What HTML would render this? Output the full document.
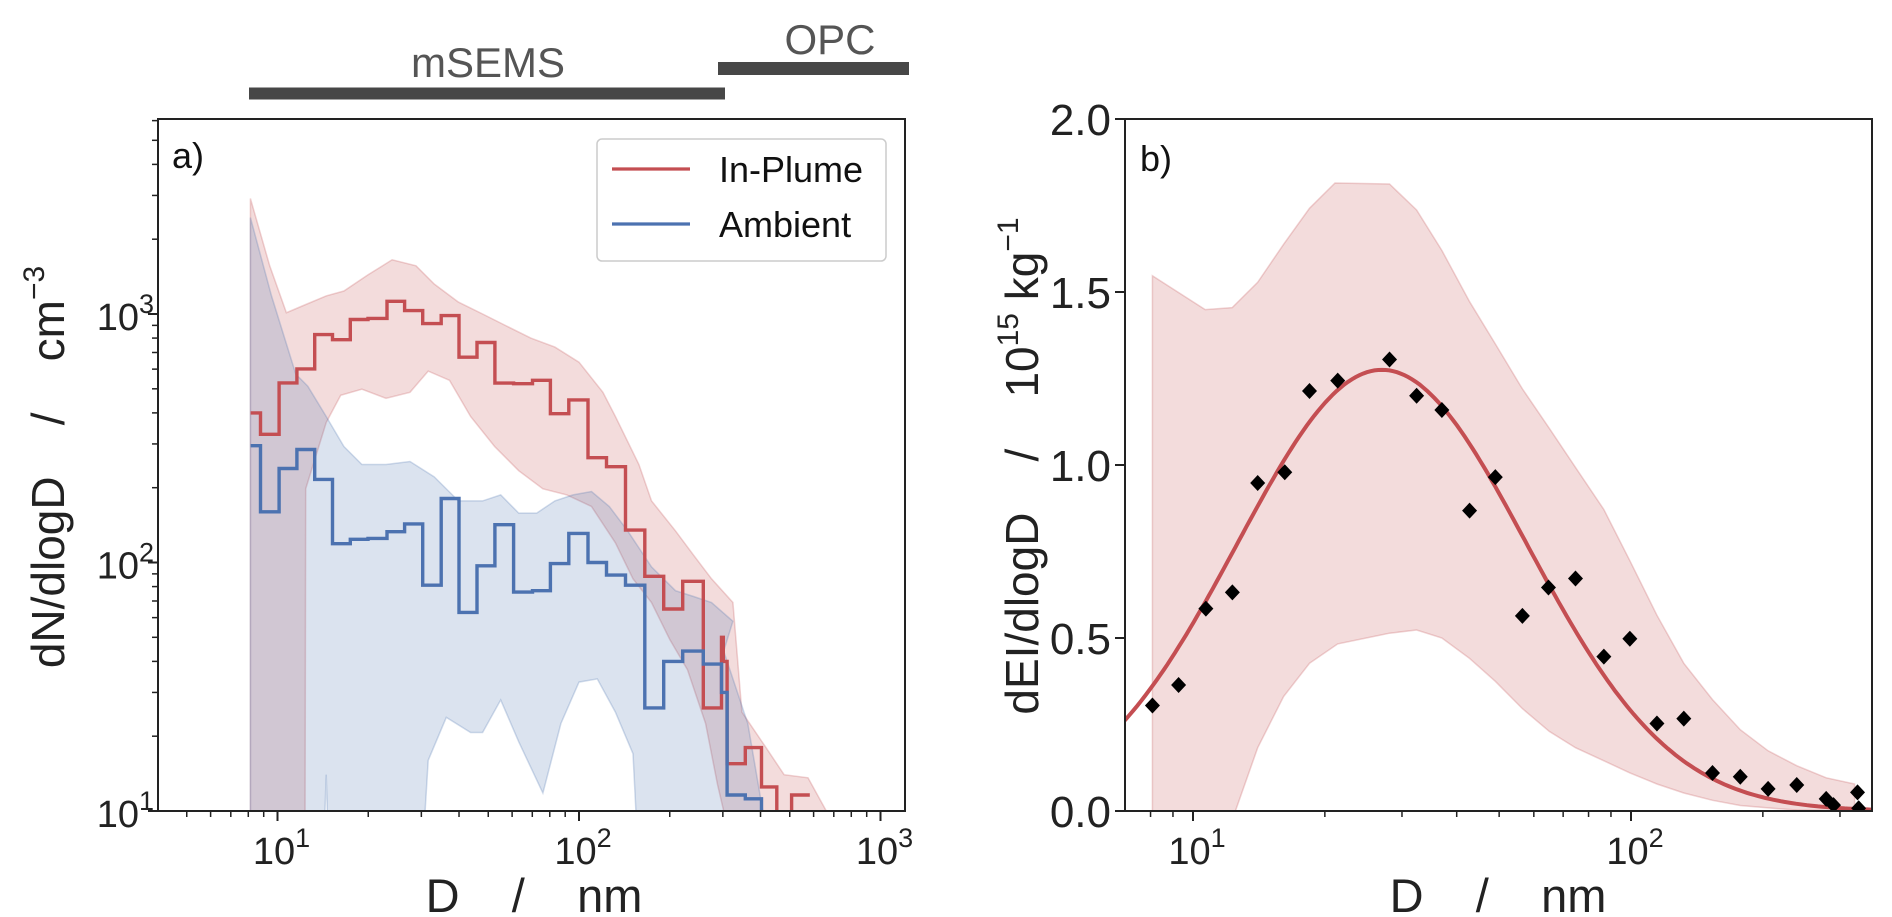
<!DOCTYPE html>
<html><head><meta charset="utf-8"><style>
html,body{margin:0;padding:0;background:#fff;overflow:hidden;width:1892px;height:917px;}
svg{display:block;font-family:"Liberation Sans","DejaVu Sans",sans-serif;}
</style></head><body>
<svg id="chart" width="1892" height="917" viewBox="0 0 1892 917" xmlns="http://www.w3.org/2000/svg">
<defs>
<clipPath id="clipA"><rect x="158" y="119" width="747" height="692"/></clipPath>
<clipPath id="clipB"><rect x="1125" y="119" width="747" height="692"/></clipPath>
</defs>
<g>
<rect x="249" y="87.5" width="476" height="12" fill="#474747"/>
<text x="488" y="77" font-size="42" fill="#555" text-anchor="middle">mSEMS</text>
<rect x="718" y="62" width="191" height="13" fill="#474747"/>
<text x="830" y="54" font-size="42" fill="#555" text-anchor="middle">OPC</text>
</g>
<g id="panelA"></g>
<g id="panelB"></g>
</svg>
<script>
// ---------- Panel a data ----------
const binEdges = [8.14,8.78,10.12,11.6,13.29,15.22,17.43,19.96,23.07,26.4,30.3,34.9,40.0,45.9,52.6,60.7,70.1,80.4,92.5,107.1,123.4,142.6,165.3,191.0,220.8,258.3,297,301,310,356,403,453,507,583];
const inPlume = [400,328,528,601,826,788,950,960,1125,1032,915,985,670,768,527,524,541,397,451,264,243,135,88,65,84,26,50,40,15.5,18,12.5,5,11.6];
const ambient = [295,160,239,285,216,119,124,125,133,143,81,181,63,97,142,76,77,99,131,100,89,81,26,40,44,39,30,30,11.6,11.2,5,5,5];
const redBandD = [8.13,9.42,10.7,12.3,14.5,16.6,19.95,24.0,28.8,33.1,39.8,47.9,57.5,69.2,83.2,100,120,132,158,174,209,240,275,324,347,417,479,575,661];
const redBandHi = [2917,1563,1012,1087,1183,1237,1437,1653,1563,1321,1117,1000,895,800,736,640,484,387,248,177,134,107,86,69,25,18,14,13.6,10];
const redLowD = [8.13,12.3,12.4,14.5,16.2,19.05,22.9,27.5,31.6,37.2,43.7,52.5,63.1,75.9,91.2,110,132,151,174,200,229,263,288,302,661];
const redLowV = [1,1,198,366,471,498,458,484,589,541,387,293,234,198,187,168,120,86,69,49,37,22.5,12.8,10,1];
const blueBandD = [8.13,9.55,11.5,12.6,14.5,16.6,19.05,22.9,27.5,33.1,39.8,47.9,55,63.1,72.4,83.2,95.5,110,126,145,174,209,240,275,324,302,363,407];
const blueBandHi = [2443,1183,573,512,387,293,248,248,255,221,177,177,187,158,158,177,187,193,168,134,96,77,73,69,58,44,22.5,10];
const blueLowD = [8.13,13.5,14.5,15.5,27.5,31.6,36.3,43.7,47.9,55,63.1,75.9,87.1,100,115,132,151,170,407];
const blueLowV = [1,1,14,1,1,16,23.8,20.7,20.7,28,19,11.8,22.5,33,34,25,17,1,1];
const aXTickVals = [10,100,1000];
const aXTickExp = ["1","2","3"];
const aYTickVals = [10,100,1000];
const aYTickExp = ["1","2","3"];

// ---------- Panel b data ----------
const eiD = [8.08,9.27,10.7,12.3,14.05,16.2,18.45,21.4,28.1,32.4,37.0,42.8,49.0,56.5,64.8,74.7,86.7,99.4,114.6,132,153.5,177.6,205.6,239,279,290,329,331];
const eiVal = [0.305,0.364,0.585,0.632,0.948,0.979,1.214,1.244,1.305,1.200,1.159,0.868,0.965,0.564,0.646,0.672,0.446,0.498,0.253,0.267,0.110,0.099,0.064,0.075,0.035,0.017,0.054,0.008];
const bandBD = [8.08,10.66,12.29,14.05,16.1,18.45,21.1,28.1,32.4,37.0,42.8,49.0,56.5,65.1,74.7,86.7,99.4,114.6,132,153.5,177.6,205.6,239,279,324];
const bandBHi = [1.547,1.449,1.455,1.528,1.638,1.742,1.815,1.812,1.737,1.620,1.472,1.350,1.220,1.106,0.993,0.871,0.723,0.566,0.427,0.322,0.235,0.174,0.131,0.096,0.078];
const bandBLowD = [8.08,12.5,14.05,16.1,18.45,21.4,28.1,32.4,37.0,42.8,49.0,56.5,65.1,74.7,86.7,99.4,114.6,132,153.5,177.6,205.6,239,324];
const bandBLow = [0,0,0.183,0.331,0.427,0.483,0.514,0.523,0.5,0.441,0.375,0.296,0.230,0.183,0.145,0.110,0.078,0.052,0.031,0.016,0.009,0.003,0];
const fitAmplitude = [1.275];
const fitMode = [27];
const fitSigma = [0.33];
const bXTickVals = [10,100];
const bXTickExp = ["1","2"];
const bYTickVals = [0,0.5,1.0,1.5,2.0];
const bYTickLabels = ["0.0","0.5","1.0","1.5","2.0"];

const NS = "http://www.w3.org/2000/svg";
const L = Math.log10;
const SP = "\u00a0\u00a0\u00a0\u00a0";
function xa(d){return 277.5 + 301.5*(L(d)-1);}
function ya(v){return 811 - 248.5*(L(v)-1);}
function xb(d){return 1193 + 438*(L(d)-1);}
function yb(v){return 811 - 346*v;}
function mk(tag, attrs, parent){
  const e = document.createElementNS(NS, tag);
  for (const k in attrs) e.setAttribute(k, attrs[k]);
  parent.appendChild(e); return e;
}
const RED = "#c44e52", BLUE = "#4c72b0";
const pA = document.getElementById("panelA");
const pB = document.getElementById("panelB");

const gA = mk("g", {"clip-path":"url(#clipA)"}, pA);
function bandPath(xs, hi, lowX, lo, fx, fy){
  let d = "";
  xs.forEach((x,i)=>{ d += (i?"L":"M") + fx(x).toFixed(1) + "," + fy(hi[i]).toFixed(1); });
  for (let i = lowX.length-1; i >= 0; i--) d += "L" + fx(lowX[i]).toFixed(1) + "," + fy(lo[i]).toFixed(1);
  return d + "Z";
}
const rb = mk("path", {d: bandPath(redBandD, redBandHi, redLowD, redLowV, xa, ya), fill: RED, "fill-opacity": 0.2, stroke: RED, "stroke-opacity": 0.25, "stroke-width": 1.5}, gA);


const bb = mk("path", {d: bandPath(blueBandD, blueBandHi, blueLowD, blueLowV, xa, ya), fill: BLUE, "fill-opacity": 0.2, stroke: BLUE, "stroke-opacity": 0.25, "stroke-width": 1.5}, gA);


function stepPath(vals){
  let d = "";
  vals.forEach((v,i)=>{
    const x0 = xa(binEdges[i]), x1 = xa(binEdges[i+1]), y = ya(v);
    d += (i ? "L" : "M") + x0.toFixed(1) + "," + y.toFixed(1) + "L" + x1.toFixed(1) + "," + y.toFixed(1);
  });
  return d;
}
const rl = mk("path", {d: stepPath(inPlume), fill: "none", stroke: RED, "stroke-width": 3.4}, gA);


const bl = mk("path", {d: stepPath(ambient), fill: "none", stroke: BLUE, "stroke-width": 3.4}, gA);


const frA = mk("rect", {x:158, y:119, width:747, height:692, fill:"none", stroke:"#222", "stroke-width":2}, pA);


for (let e = 0; e <= 3; e++) for (let m = 1; m <= 9; m++){
  const v = m*Math.pow(10,e);
  const x = xa(v);
  if (x < 159 || x > 904) continue;
  const t = mk("line", {x1:x, x2:x, y1:811, y2: 811 + (m===1?10:6), stroke:"#222", "stroke-width": m===1?2:1.5}, pA);
  
  
}
for (let e = 1; e <= 3; e++) for (let m = 1; m <= 9; m++){
  const v = m*Math.pow(10,e);
  const y = ya(v);
  if (y < 120 || y > 811) continue;
  const t = mk("line", {x1:158 - (m===1?10:6), x2:158, y1:y, y2:y, stroke:"#222", "stroke-width": m===1?2:1.5}, pA);
  
  
}
function powLabel(parent, x, y, exp, anchor, name){
  const t = mk("text", {x:x, y:y, "font-size":38, fill:"#222", "text-anchor":anchor}, parent);
  
  
  t.appendChild(document.createTextNode("10"));
  const s = mk("tspan", {dy:-17, "font-size":27}, t);
  s.textContent = exp;
}
aXTickVals.forEach((v,i)=> powLabel(pA, xa(v)+4, 864, aXTickExp[i], "middle", "x-tick-label"));
aYTickVals.forEach((v,i)=> powLabel(pA, 154, ya(v)+16, aYTickExp[i], "end", "y-tick-label"));
const tA = mk("text", {x:172, y:168, "font-size":36, fill:"#111"}, pA);


tA.textContent = "a)";
const xlA = mk("text", {x:534, y:912, "font-size":47, fill:"#222", "text-anchor":"middle"}, pA);


xlA.textContent = "D" + SP + "/" + SP + "nm";
const ylA = mk("text", {x:0, y:0, "font-size":46, fill:"#222", "text-anchor":"middle", transform:"translate(64,467) rotate(-90)"}, pA);


ylA.appendChild(document.createTextNode("dN/dlogD" + SP + "/" + SP + "cm"));
const supA = mk("tspan", {dy:-20, "font-size":30}, ylA); supA.textContent = "−3";
const lg = mk("g", {}, pA);


mk("rect", {x:597, y:139, width:289, height:122, rx:5, fill:"#fff", "fill-opacity":0.85, stroke:"#ccc", "stroke-width":1.5}, lg);
const le1 = mk("line", {x1:612, x2:690, y1:169, y2:169, stroke:RED, "stroke-width":3.2}, lg);


const lt1 = mk("text", {x:719, y:182, "font-size":36, fill:"#111"}, lg);


lt1.textContent = "In-Plume";
const le2 = mk("line", {x1:612, x2:690, y1:224, y2:224, stroke:BLUE, "stroke-width":3.2}, lg);


const lt2 = mk("text", {x:719, y:237, "font-size":36, fill:"#111"}, lg);


lt2.textContent = "Ambient";

const gB = mk("g", {"clip-path":"url(#clipB)"}, pB);
const bandB = mk("path", {d: bandPath(bandBD, bandBHi, bandBLowD, bandBLow, xb, yb), fill: RED, "fill-opacity": 0.2, stroke: RED, "stroke-opacity": 0.25, "stroke-width": 1.5}, gB);


let fd = "";
for (let i = 0; i <= 200; i++){
  const lg10 = L(6.9) + (L(360)-L(6.9))*i/200;
  const v = fitAmplitude[0]*Math.exp(-Math.pow(lg10 - L(fitMode[0]),2)/(2*fitSigma[0]*fitSigma[0]));
  fd += (i?"L":"M") + xb(Math.pow(10,lg10)).toFixed(1) + "," + yb(v).toFixed(1);
}
const fit = mk("path", {d: fd, fill:"none", stroke:RED, "stroke-width":4}, gB);


eiD.forEach((d,i)=>{
  const x = xb(d), y = yb(eiVal[i]);
  const p = mk("path", {d:`M${x},${y-8}L${x+7.5},${y}L${x},${y+8}L${x-7.5},${y}Z`, fill:"#000"}, gB);
  
  
});
const frB = mk("rect", {x:1125, y:119, width:747, height:692, fill:"none", stroke:"#222", "stroke-width":2}, pB);


for (let e = 0; e <= 2; e++) for (let m = 1; m <= 9; m++){
  const v = m*Math.pow(10,e);
  const x = xb(v);
  if (x < 1126 || x > 1871) continue;
  const t = mk("line", {x1:x, x2:x, y1:811, y2: 811 + (m===1?10:6), stroke:"#222", "stroke-width": m===1?2:1.5}, pB);
  
  
}
bXTickVals.forEach((v,i)=> powLabel(pB, xb(v)+4, 864, bXTickExp[i], "middle", "x-tick-label"));
bYTickVals.forEach((v,i)=>{
  const y = yb(v);
  const t = mk("line", {x1:1115, x2:1125, y1:y, y2:y, stroke:"#222", "stroke-width":2}, pB);
  
  
  const tl = mk("text", {x:1111, y:y+16, "font-size":44, fill:"#222", "text-anchor":"end"}, pB);
  
  
  tl.textContent = bYTickLabels[i];
});
const tB = mk("text", {x:1140, y:171, "font-size":36, fill:"#111"}, pB);


tB.textContent = "b)";
const xlB = mk("text", {x:1498, y:912, "font-size":47, fill:"#222", "text-anchor":"middle"}, pB);


xlB.textContent = "D" + SP + "/" + SP + "nm";
const ylB = mk("text", {x:0, y:0, "font-size":46, fill:"#222", "text-anchor":"middle", transform:"translate(1038,466) rotate(-90)"}, pB);


ylB.appendChild(document.createTextNode("dEI/dlogD" + SP + "/" + SP + "10"));
const s15 = mk("tspan", {dy:-20, "font-size":30}, ylB); s15.textContent = "15";
const kg = mk("tspan", {dy:20}, ylB); kg.textContent = "\u00a0kg";
const sm1 = mk("tspan", {dy:-20, "font-size":30}, ylB); sm1.textContent = "−1";
</script>
</body></html>
